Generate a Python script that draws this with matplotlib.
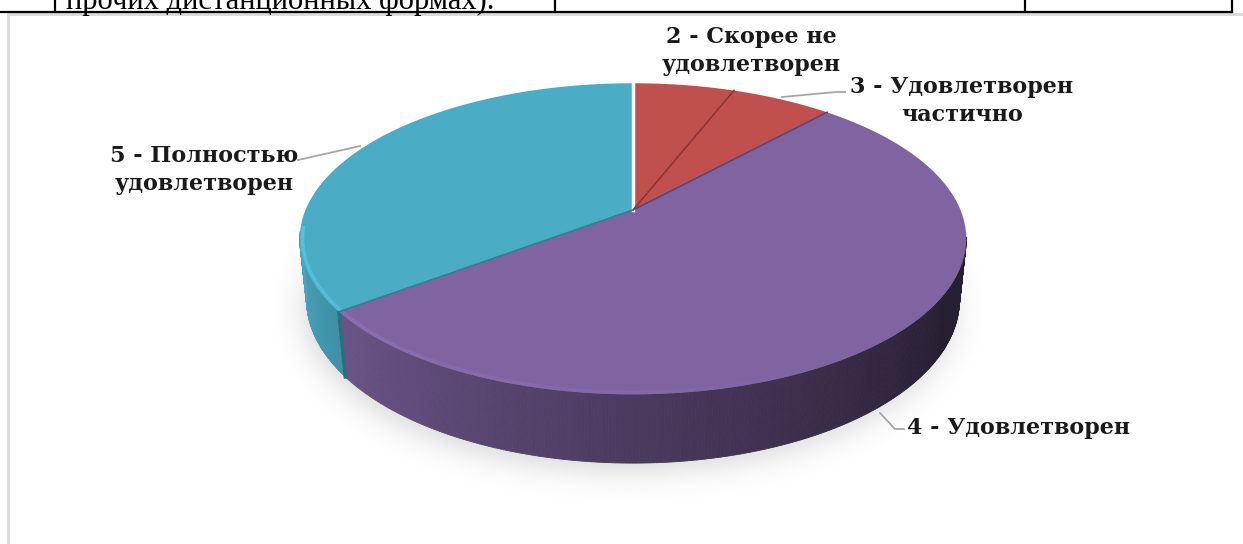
import numpy as np
import matplotlib.pyplot as plt
from matplotlib.collections import LineCollection
from matplotlib.path import Path

# survey answers (2..5), grade 1 had no answers
labels = ['2 - Скорее не\nудовлетворен', '3 - Удовлетворен\nчастично',
          '4 - Удовлетворен', '5 - Полностью\nудовлетворен']
counts = [1, 1, 9, 6]
colors = ['#c0504d', '#c0504d', '#8064a2', '#4bacc6']
edge_colors = ['#8e3432', '#8e3432', '#5b4577', '#2f7f95']

W, Hpx = 1243, 544
fig = plt.figure(figsize=(W / 100, Hpx / 100), dpi=100)
ax = fig.add_axes([0, 0, 1, 1])
ax.set_xlim(0, W)
ax.set_ylim(Hpx, 0)
ax.axis('off')

# perspective camera for the 3d pie
F, D, EL = 1572.0, 4.8, np.radians(27.3)
CX, CY = 633.0, 210.0
THICK = 0.21
ce, se = np.cos(EL), np.sin(EL)


def project(theta_deg, r=1.0, z=0.0):
    t = np.radians(theta_deg)
    X, Y = r * np.sin(t), r * np.cos(t)
    w = D + Y * ce - z * se
    return CX + F * X / w, CY - F * (Y * se + z * ce) / w


def rgb(c):
    c = c.lstrip('#')
    return np.array([int(c[i:i + 2], 16) for i in (0, 2, 4)]) / 255.0


fracs = np.array(counts, float) / sum(counts)
bounds = np.concatenate([[0], np.cumsum(fracs) * 360])


def slice_at(theta):
    return min(np.searchsorted(bounds, theta, side='right') - 1, len(counts) - 1)


# soft shadow under the pie
tt = np.linspace(0, 360, 361)
bx, by = project(tt, 1.0, -THICK)
yy, xx = np.mgrid[0:Hpx, 0:W]
mask = Path(np.column_stack([bx - 4, by + 8])).contains_points(
    np.column_stack([xx.ravel() + 0.5, yy.ravel() + 0.5])).reshape(Hpx, W).astype(float)
k = np.exp(-0.5 * (np.arange(-45, 46) / 14.0) ** 2)
k /= k.sum()
blur = np.apply_along_axis(lambda v: np.convolve(v, k, mode='same'), 1, mask)
blur = np.apply_along_axis(lambda v: np.convolve(v, k, mode='same'), 0, blur)
shadow = np.zeros((Hpx, W, 4))
shadow[..., :3] = 0.5
shadow[..., 3] = blur * 0.3
ax.imshow(shadow, extent=(0, W, Hpx, 0), zorder=1, interpolation='bilinear')

# side wall, shaded from the left
step = 0.5
for a in np.arange(100, 262, step):
    b = a + step
    i = slice_at(a + step / 2)
    f = np.clip(0.35 + (a - 130) * 0.0047, 0.3, 1.05)
    col = np.clip(rgb(colors[i]) * f, 0, 1)
    x1, y1 = project(np.array([a, b]), 1.0, 0.0)
    x2, y2 = project(np.array([b, a]), 1.0, -THICK)
    ax.fill(np.r_[x1, x2], np.r_[y1, y2], color=col, lw=0.6, ec=col, zorder=2)

# dark seam where slice 4 meets slice 5 on the wall
sx1, sy1 = project(bounds[3], 1.0, 0.0)
sx2, sy2 = project(bounds[3], 1.0, -THICK)
ax.plot([sx1, sx2], [sy1, sy2], color='#2a6f80', lw=2.5, zorder=3)

# top face
for i in range(len(counts)):
    th = np.linspace(bounds[i], bounds[i + 1], 200)
    x, y = project(th)
    ax.fill(np.r_[CX, x], np.r_[CY, y], color=colors[i], lw=0, zorder=4)

# soft bevel along the front rim
segs, segc = [], []
for a in np.arange(150, 264, 1.0):
    x, y = project(np.array([a, a + 1]), 0.992)
    i = slice_at(a + 0.5)
    f = np.clip(1.0 + (a - 150) * 0.0022, 1.0, 1.25)
    segs.append(np.column_stack([x, y]))
    segc.append(np.clip(rgb(colors[i]) * f, 0, 1))
ax.add_collection(LineCollection(segs, colors=segc, lw=2.5, alpha=0.55, zorder=5))

for i in range(len(counts)):
    ex, ey = project(bounds[i])
    ec = edge_colors[i] if i > 0 else 'white'
    ax.plot([CX, ex], [CY, ey], color=ec, lw=2.5 if i == 0 else 1.2, zorder=6)

# data labels and leader lines
lbl_font = dict(family='DejaVu Serif', weight='bold', fontsize=16.0, color='#1a1a1a',
                linespacing=1.4, zorder=8)
ax.text(751, 51, labels[0], ha='center', va='center', **lbl_font)
ax.text(962, 101, labels[1], ha='center', va='center', **lbl_font)
ax.text(907, 428, labels[2], ha='left', va='center', **lbl_font)
ax.text(204, 170, labels[3], ha='center', va='center', **lbl_font)

lead = dict(color='#a6a6a6', lw=1.3, zorder=7)
ax.plot([782, 836, 845], [97, 92, 92], **lead)
ax.plot([298, 360], [160, 146], **lead)
ax.plot([880, 895, 904], [413, 429, 429], **lead)

# chart frame and the table row above it
ax.plot([8.5, 8.5, W], [Hpx, 13.5, 13.5], color='#d9d9d9', lw=2, zorder=9,
        solid_joinstyle='miter')
ax.plot([0, 1232], [12, 12], color='black', lw=1.6, zorder=10)
for xv in (55, 555, 1025, 1232):
    ax.plot([xv, xv], [0, 12], color='black', lw=1.6, zorder=10)
ax.text(66, 9, 'прочих дистанционных формах).', family='Liberation Serif',
        fontsize=22, ha='left', va='baseline', zorder=10)

fig.savefig('out.png', dpi=100)
